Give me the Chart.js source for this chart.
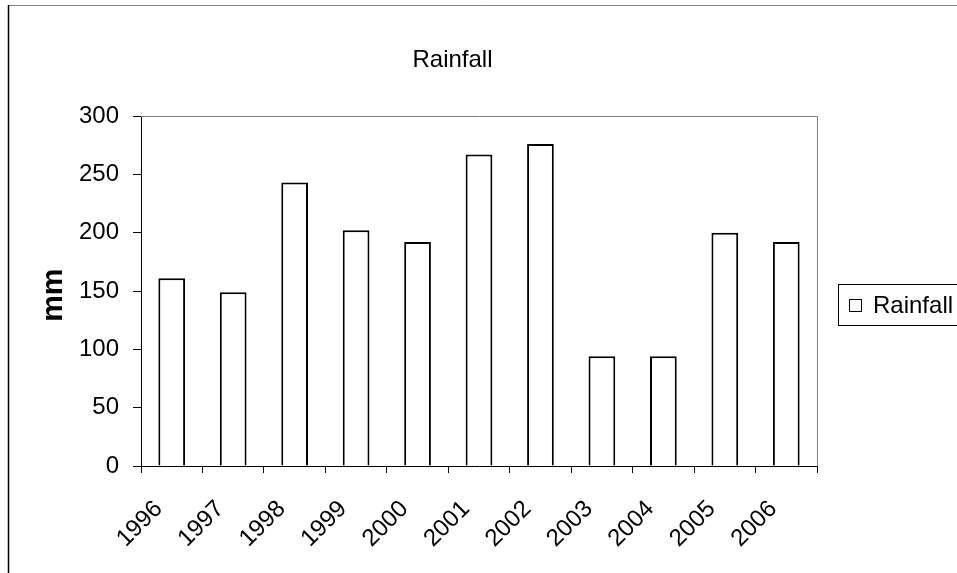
<!DOCTYPE html>
<html>
<head>
<meta charset="utf-8">
<script src="https://cdn.jsdelivr.net/npm/chart.js@4"></script>
<style>
  html, body { margin: 0; padding: 0; background: #fff; }
  #wrap { width: 957px; height: 573px; position: relative; }
</style>
</head>
<body>
<div id="wrap"><canvas id="chart1"></canvas></div>
<script>
// dados do grafico
const anos = ["1996", "1997", "1998", "1999", "2000", "2001", "2002", "2003", "2004", "2005", "2006"];
const chuva = [161, 149, 243, 202, 192, 267, 276, 94, 94, 200, 192];
const rotuloSerie = "Rainfall";
const tituloGrafico = "Rainfall";
const tituloEixoY = "mm ";

const fonte = "'Liberation Sans', Arial, sans-serif";

// moldura, borda cinza da area do grafico e legenda com caixa
const extras = {
    id: "extras",
    beforeDatasetsDraw(chart) {
        const ctx = chart.ctx;
        const a = chart.chartArea;
        ctx.save();
        ctx.strokeStyle = "#808080";
        ctx.lineWidth = 1;
        ctx.beginPath();
        ctx.moveTo(a.left, a.top + 0.5);
        ctx.lineTo(a.right + 0.5, a.top + 0.5);
        ctx.lineTo(a.right + 0.5, a.bottom);
        ctx.stroke();
        ctx.restore();
    },
    afterDraw(chart) {
        const ctx = chart.ctx;
        ctx.save();
        // moldura externa
        ctx.strokeStyle = "#808080";
        ctx.lineWidth = 1;
        ctx.beginPath();
        ctx.moveTo(8, 5.5);
        ctx.lineTo(957, 5.5);
        ctx.stroke();
        ctx.strokeStyle = "#000";
        ctx.lineWidth = 1.5;
        ctx.beginPath();
        ctx.moveTo(8.5, 5);
        ctx.lineTo(8.5, 573);
        ctx.stroke();

        // legenda
        const ds = chart.data.datasets[0];
        ctx.lineWidth = 1;
        ctx.strokeStyle = "#000";
        ctx.strokeRect(838.5, 284.5, 125, 41);
        ctx.fillStyle = ds.backgroundColor;
        ctx.fillRect(849.5, 299.5, 12, 12);
        ctx.strokeRect(849.5, 299.5, 12, 12);
        ctx.fillStyle = "#000";
        ctx.font = "24px " + fonte;
        ctx.textBaseline = "middle";
        ctx.textAlign = "left";
        ctx.fillText(ds.label, 873, 306);
        ctx.restore();
    }
};

const ctx1 = document.getElementById("chart1").getContext("2d");
const chart1 = new Chart(ctx1, {
    type: "bar",
    data: {
        labels: anos,
        datasets: [{
            label: rotuloSerie,
            data: chuva,
            backgroundColor: "#FFFFFF",
            borderColor: "#000000",
            borderWidth: 2,
            barPercentage: 0.435,
            categoryPercentage: 1
        }]
    },
    options: {
        responsive: true,
        maintainAspectRatio: false,
        animation: false,
        layout: { padding: { left: 0, right: 52, top: 0, bottom: 0 } },
        plugins: {
            legend: { display: false },
            tooltip: { enabled: false },
            title: {
                display: true,
                text: tituloGrafico,
                color: "#000",
                font: { family: fonte, size: 24, weight: "normal" },
                padding: { top: 45.6, bottom: 41.6 }
            }
        },
        scales: {
            x: {
                offset: true,
                grid: { display: true, drawOnChartArea: false, offset: true, color: "#000", tickLength: 7 },
                border: { display: true, color: "#000", width: 1 },
                ticks: {
                    color: "#000",
                    font: { family: fonte, size: 24 },
                    maxRotation: 45,
                    minRotation: 45,
                    autoSkip: false,
                    labelOffset: -13,
                    padding: 22
                },
                afterFit(s) { s.height = 107; }
            },
            y: {
                min: 0,
                max: 300,
                ticks: { stepSize: 50, color: "#000", font: { family: fonte, size: 24 }, padding: 14 },
                grid: { display: true, drawOnChartArea: false, color: "#000", tickLength: 8 },
                border: { display: true, color: "#000", width: 1 },
                title: {
                    display: true,
                    text: tituloEixoY,
                    color: "#000",
                    font: { family: fonte, size: 30, weight: "bold" },
                    padding: { top: 36, bottom: 0 }
                },
                afterFit(s) { s.width = 141; }
            },
            y2: {
                position: "right",
                display: true,
                grid: { display: false },
                border: { display: false },
                ticks: { display: false },
                afterFit(s) { s.width = 88; }
            }
        }
    },
    plugins: [extras]
});
</script>
</body>
</html>
